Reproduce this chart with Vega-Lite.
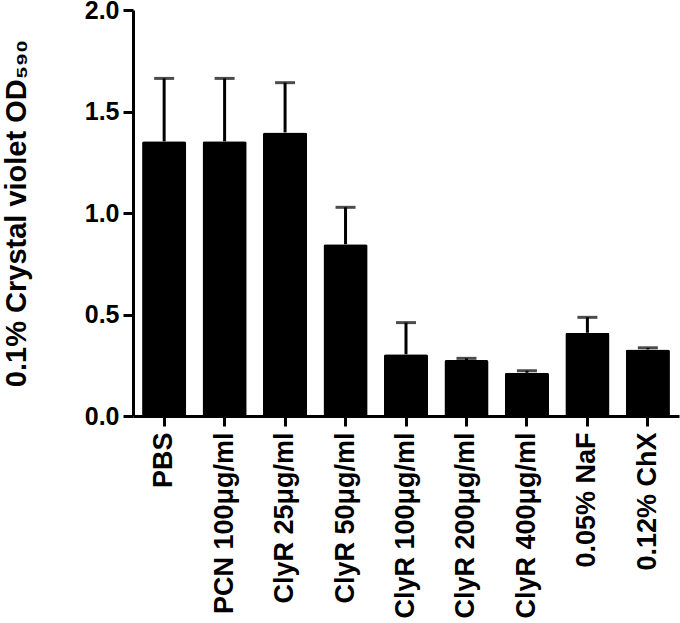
{
  "$schema": "https://vega.github.io/schema/vega-lite/v6.json",
  "width": 546,
  "height": 406,
  "autosize": {"type": "none"},
  "padding": {"left": 133, "top": 10, "right": 1, "bottom": 207},
  "background": "white",
  "config": {"view": {"stroke": null}, "font": "Liberation Sans"},
  "data": {
    "values": [
      {"group": "PBS", "mean": 1.353, "upper": 1.663},
      {"group": "PCN 100μg/ml", "mean": 1.353, "upper": 1.663},
      {"group": "ClyR 25μg/ml", "mean": 1.397, "upper": 1.642},
      {"group": "ClyR 50μg/ml", "mean": 0.846, "upper": 1.028},
      {"group": "ClyR 100μg/ml", "mean": 0.304, "upper": 0.46},
      {"group": "ClyR 200μg/ml", "mean": 0.276, "upper": 0.284},
      {"group": "ClyR 400μg/ml", "mean": 0.213, "upper": 0.223},
      {"group": "0.05% NaF", "mean": 0.41, "upper": 0.486},
      {"group": "0.12% ChX", "mean": 0.328, "upper": 0.336}
    ]
  },
  "encoding": {
    "x": {
      "field": "group",
      "type": "nominal",
      "sort": null,
      "scale": {"paddingInner": 0.27, "paddingOuter": 0.15},
      "axis": {
        "title": null,
        "zindex": 1,
        "domainColor": "black",
        "domainWidth": 3,
        "tickColor": "black",
        "tickWidth": 3,
        "tickSize": 10,
        "labelAngle": -90,
        "labelAlign": "right",
        "labelBaseline": "middle",
        "labelFontSize": 27,
        "labelFontWeight": "bold",
        "labelColor": "black",
        "labelPadding": 6,
        "labelLimit": 400,
        "labelOverlap": false
      }
    }
  },
  "layer": [
    {
      "mark": {"type": "bar", "color": "black", "cornerRadiusTopLeft": 2, "cornerRadiusTopRight": 2},
      "encoding": {
        "y": {
          "field": "mean",
          "type": "quantitative",
          "scale": {"domain": [0, 2], "nice": false},
          "axis": {
            "zindex": 1,
            "values": [0, 0.5, 1, 1.5, 2],
            "format": ".1f",
            "grid": false,
            "domainColor": "black",
            "domainWidth": 3,
            "tickColor": "black",
            "tickWidth": 3,
            "tickSize": 10,
            "labelFontSize": 25,
            "labelFontWeight": "bold",
            "labelColor": "black",
            "labelPadding": 4,
            "title": "0.1% Crystal violet OD₅₉₀",
            "titleFontSize": 29,
            "titleFontWeight": "bold",
            "titleColor": "black",
            "titleAngle": -90,
            "titleAlign": "center",
            "titleBaseline": "alphabetic",
            "titleX": -108,
            "titleY": 203
          }
        }
      }
    },
    {
      "mark": {"type": "rule", "color": "black", "strokeWidth": 3},
      "encoding": {
        "y": {"field": "mean", "type": "quantitative"},
        "y2": {"field": "upper"}
      }
    },
    {
      "mark": {"type": "tick", "color": "black", "thickness": 3, "size": 20},
      "encoding": {
        "y": {"field": "upper", "type": "quantitative"}
      }
    }
  ]
}
